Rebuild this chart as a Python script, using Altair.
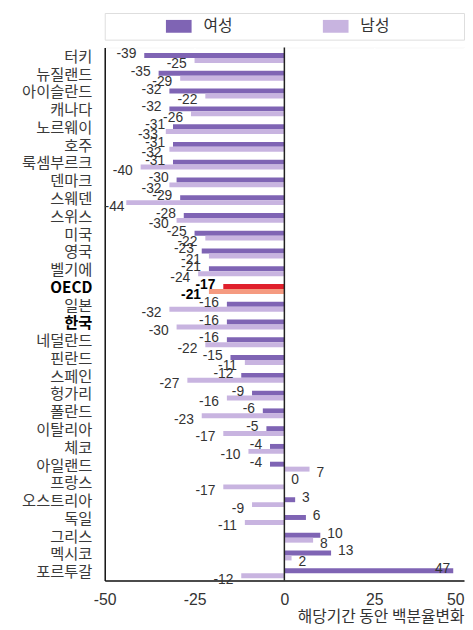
import altair as alt
import pandas as pd

countries = ["터키", "뉴질랜드", "아이슬란드", "캐나다", "노르웨이", "호주", "룩셈부르크",
             "덴마크", "스웨덴", "스위스", "미국", "영국", "벨기에", "OECD", "일본", "한국",
             "네덜란드", "핀란드", "스페인", "헝가리", "폴란드", "이탈리아", "체코", "아일랜드",
             "프랑스", "오스트리아", "독일", "그리스", "멕시코", "포르투갈"]
women = [-39, -35, -32, -32, -31, -31, -31, -30, -29, -28, -25, -23, -21, -17, -16, -16,
         -16, -15, -12, -9, -6, -5, -4, -4, 0, 3, 6, 10, 13, 47]
men = [-25, -29, -22, -26, -33, -32, -40, -32, -44, -30, -22, -21, -24, -21, -32, -30,
       -22, -11, -27, -16, -23, -17, -10, 7, -17, -9, -11, 8, 2, -12]
sexes = ["여성", "남성"]
x_ticks = [-50, -25, 0, 25, 50]
x_title = "해당기간 동안 백분율변화"

C_W, C_M, C_OW, C_OM = "#7f64b4", "#c8b4e0", "#e0202c", "#f59a80"
KR = "Noto Sans CJK KR"
NUM = "Liberation Sans Narrow, Liberation Sans, Arial"

rows = []
for c, w, m in zip(countries, women, men):
    rows.append({"country": c, "sex": sexes[0], "value": w})
    rows.append({"country": c, "sex": sexes[1], "value": m})
df = pd.DataFrame(rows)

x_axis = alt.Axis(values=x_ticks, grid=True, gridColor="white", gridWidth=1.5,
                  domainColor="#111", domainWidth=1.5, ticks=False,
                  labelFontSize=16, labelColor="#333", labelFont="Liberation Sans",
                  labelPadding=11, labelFlush=False,
                  labelExpr="replace(datum.label, '−', '-')",
                  labelAlign=alt.condition("datum.value == 50", alt.value("right"), alt.value("center")),
                  title=x_title, titleAnchor="end", titleFontSize=16, titleFont=KR,
                  titleFontWeight="normal", titleColor="#333", titlePadding=1)
x_scale = alt.Scale(domain=[-50, 50], nice=False, zero=False)

y_axis = alt.Axis(title=None, grid=True, gridColor="white", gridWidth=1.5, tickBand="extent",
                  ticks=False, domainColor="#111", domainWidth=1.5,
                  labelFont=KR, labelFontSize=15.5, labelPadding=13,
                  labelColor=alt.condition("datum.value == 'OECD' || datum.value == '한국'",
                                           alt.value("#000"), alt.value("#3a3a3a")),
                  labelFontWeight=alt.condition("datum.value == 'OECD' || datum.value == '한국'",
                                                alt.value("bold"), alt.value("normal")))
y_enc = alt.Y("country:N", sort=countries,
              scale=alt.Scale(domain=countries, paddingInner=0, paddingOuter=0), axis=y_axis)
yoff = alt.YOffset("sex:N", sort=sexes,
                   scale=alt.Scale(domain=sexes, paddingInner=0, paddingOuter=0.8, align=0.7))

bars = alt.Chart(df).transform_calculate(
    key="datum.country == 'OECD' ? 'OECD ' + datum.sex : datum.sex"
).mark_bar().encode(
    x=alt.X("value:Q", scale=x_scale, axis=x_axis),
    y=y_enc,
    yOffset=yoff,
    color=alt.Color("key:N", scale=alt.Scale(domain=sexes + ["OECD 여성", "OECD 남성"],
                                             range=[C_W, C_M, C_OW, C_OM]), legend=None),
)

zero = alt.Chart(pd.DataFrame({"zero": [0]})).mark_rule(color="#222", strokeWidth=1.5).encode(
    x=alt.X("zero:Q", scale=x_scale, axis=x_axis))


def text_layer(sex, cond, align, dx, dy, weight="normal", color="#333"):
    return alt.Chart(df).transform_filter(
        f"datum.sex == '{sex}' && ({cond})"
    ).transform_calculate(
        lx="max(datum.value, -42.3)", txt="'' + datum.value"
    ).mark_text(align=align, baseline="middle", dx=dx, dy=dy, fontSize=14, font=NUM,
                fontWeight=weight, color=color).encode(
        x=alt.X("lx:Q", scale=x_scale, axis=x_axis),
        y=alt.Y("country:N", sort=countries),
        yOffset=alt.YOffset("sex:N", sort=sexes),
        text=alt.Text("txt:N"),
    )


texts = []
for sex, dy in [(sexes[0], -1.5), (sexes[1], 4)]:
    texts.append(text_layer(sex, "datum.value < 0 && datum.country != 'OECD'", "right", -8, dy))
    texts.append(text_layer(sex, "datum.value >= 0 && datum.value < 40", "left", 7, dy))
    texts.append(text_layer(sex, "datum.value >= 40", "right", -3, dy))
    texts.append(text_layer(sex, "datum.country == 'OECD'", "right", -8, dy, "bold", "#000"))

main = alt.layer(bars, zero, *texts).properties(width=364, height=540)

legend_df = pd.DataFrame({"lsex": sexes})
lx = alt.X("lsex:N", sort=sexes, axis=None,
           scale=alt.Scale(type="point", domain=sexes, range=[75, 234], padding=0))
sw = alt.Chart(legend_df).mark_point(shape="M-1,-0.5H1V0.5H-1Z", filled=True, opacity=1,
                                      size=676, strokeWidth=0).encode(
    x=lx,
    color=alt.Color("lsex:N", scale=alt.Scale(domain=sexes, range=[C_W, C_M]), legend=None))
lt = alt.Chart(legend_df).mark_text(align="left", baseline="middle", dx=25, fontSize=16,
                                     font=KR, color="#333").encode(x=lx, text="lsex:N")
legend = alt.layer(sw, lt).properties(width=364, height=27)

chart = alt.vconcat(legend, main, spacing=8, bounds="flush").resolve_scale(
    x="independent", color="independent"
).properties(
    padding={"left": 13, "top": 0, "right": 0, "bottom": 0}
).configure_view(fill="#e6e6e6", strokeWidth=0).configure(background="white")

chart.save("out.html", embed_options={"renderer": "svg", "actions": False})
